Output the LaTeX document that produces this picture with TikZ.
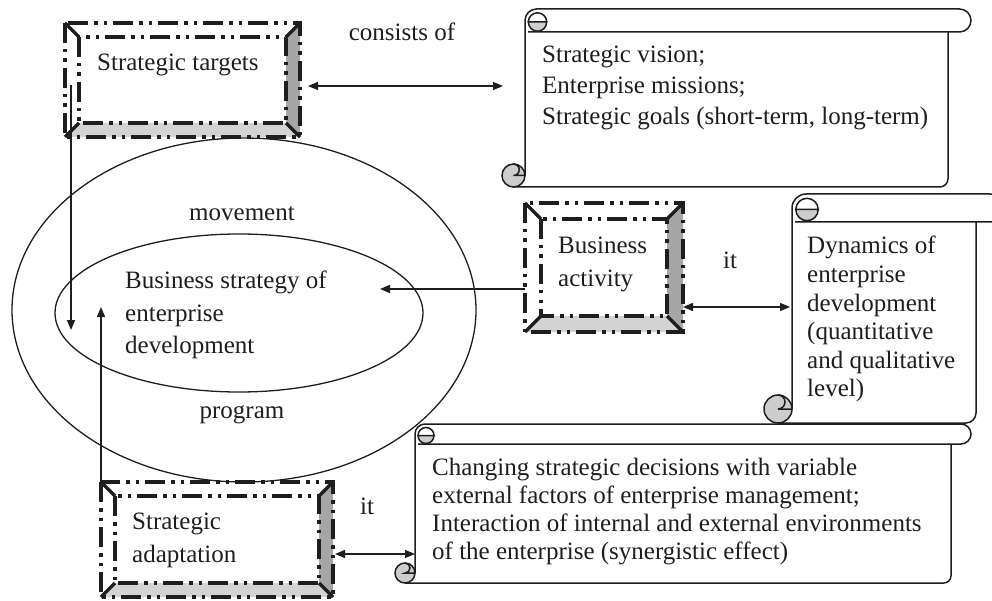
\documentclass[tikz,border=0pt]{standalone}
\usepackage{fontspec}
\setmainfont{Liberation Serif}
\usetikzlibrary{arrows.meta,shapes.geometric,calc}
\definecolor{rpanel}{RGB}{166,166,166}
\definecolor{bpanel}{RGB}{211,211,211}
\definecolor{curlgray}{RGB}{205,205,205}
\definecolor{ink}{RGB}{30,30,30}

% bevelled box: name, x1, y1, x2, y2, inset
\newcommand\bevelbox[6]{%
  \node[boxnode, minimum width={(#4-#2)*1pt}, minimum height={(#5-#3)*1pt}] (#1) at ({(#2+#4)/2},{(#3+#5)/2}) {};
  \fill[rpanel] (#1.north east) -- (#1.south east) -- ($(#1.south east)+(-#6,-#6)$) -- ($(#1.north east)+(-#6,#6)$) -- cycle;
  \fill[bpanel] (#1.south west) -- (#1.south east) -- ($(#1.south east)+(-#6,-#6)$) -- ($(#1.south west)+(#6,-#6)$) -- cycle;
  \draw[bvsolid] (#1.north west) -- ++(#6,#6) (#1.north east) -- ++(-#6,#6)
                 (#1.south west) -- ++(#6,-#6) (#1.south east) -- ++(-#6,-#6);
  \draw[bvdash] (#1.north west) rectangle (#1.south east);
  \draw[bvdash] ($(#1.north west)+(#6,#6)$) rectangle ($(#1.south east)+(-#6,-#6)$);
}

% horizontal scroll: name, L, T, R, B, c (roll height)
\newcommand\scrollbox[6]{%
  \pgfmathsetmacro\scrR{#6/2}%
  \pgfmathsetmacro\scrI{0.4*#6}%
  \pgfmathsetmacro\scrC{0.36*#6}%
  \pgfmathsetmacro\scrH{#6/4}%
  \pgfmathsetmacro\scrX{#2+#6/2+1}%
  \pgfmathsetmacro\scrY{#3+#6/2+1.5}%
  \node[boxnode, minimum width={(#4-#2)*1pt}, minimum height={(#5-#3)*1pt}] (#1) at ({(#2+#4)/2},{(#3+#5)/2}) {};
  \fill[white] (#2,{#3+\scrR}) rectangle (#4,#5);
  \fill[white] ({#2+\scrR},#3) rectangle ({#4+\scrR},{#3+#6});
  \fill[white] ({#2+\scrR},{#3+\scrR}) circle[radius=\scrR pt];
  \fill[white] ({#4+\scrR},{#3+\scrR}) circle[radius=\scrR pt];
  \draw[scline] (#2,{#5-\scrR}) -- (#2,{#3+\scrR}) arc[start angle=180,end angle=90,radius=\scrR pt]
     -- ({#4+\scrR},#3) arc[start angle=90,end angle=-90,radius=\scrR pt] -- ({#2+3},{#3+#6});
  \draw[scline] (#4,{#3+#6}) -- (#4,{#5-\scrC}) arc[start angle=0,end angle=-90,radius=\scrC pt] -- ({#2-\scrR},#5);
  \filldraw[scline, fill=curlgray] ({\scrX-\scrI},\scrY) arc[start angle=180,end angle=360,radius=\scrI pt] -- cycle;
  \draw[scline] ({\scrX-\scrI},\scrY) arc[start angle=180,end angle=0,radius=\scrI pt];
  \filldraw[scline, fill=curlgray] ({#2-\scrR},{#5-\scrR}) circle[radius=\scrR pt];
  \draw[scline] ({#2-\scrR},{#5-#6}) arc[start angle=90,end angle=-90,radius=\scrH pt] -- (#2,{#5-\scrR});
}

\newcommand\txtlines[2]{\fontsize{25}{#1}\selectfont\begin{tabular}[t]{@{}l@{}}#2\end{tabular}}

\begin{document}
\begin{tikzpicture}[x=1pt,y=-1pt,
  boxnode/.style={inner sep=0, outer sep=0, draw=none, rectangle},
  bvsolid/.style={line width=3.2pt, draw=ink},
  bvdash/.style={line width=3.2pt, draw=ink, dash pattern=on 20pt off 6pt on 3.5pt off 6pt on 3.5pt off 6pt},
  scline/.style={line width=1.5pt, draw=ink},
  ell/.style={ellipse, draw=ink, line width=1.3pt, inner sep=0},
  conn/.style={line width=1.3pt, draw=ink, >={Triangle[length=10pt,width=8pt]}},
  txt/.style={inner sep=0, text=ink, font=\fontsize{25}{30}\selectfont},
]
\useasboundingbox (0,0) rectangle (992,601);
\clip (0,0) rectangle (992,601);

% ellipses
\node[ell, minimum width=464pt, minimum height=344pt] (outer) at (244,310) {};
\node[ell, minimum width=368pt, minimum height=158pt] (inner) at (239,313) {};

% scrolls
\scrollbox{sc1}{525}{9}{948}{187}{23}
\scrollbox{sc2}{792}{194}{976}{423}{28}
\scrollbox{sc3}{415}{424}{951}{583}{20}

% bevelled boxes
\bevelbox{st}{65}{23}{300}{137}{14}
\bevelbox{ba}{525}{203}{683}{332}{16}
\bevelbox{sa}{101}{482}{333}{597}{14}

% free arrow ends
\coordinate (dn) at (71,330);
\coordinate (up) at (101,307);
\coordinate (bl) at (380,289);

% connectors
\draw[conn,<->] ($(st.east)+(8,6)$) -- ($(sc1.west)+(-22,-12)$);
\draw[conn,->] ($(st.west)+(6,5)$) -- (dn);
\draw[conn,->] (sa.north west) -- (up);
\draw[conn,->] ($(ba.west)+(0,21.5)$) -- (bl);
\draw[conn,<->] ($(ba.east)+(0,39.5)$) -- ($(sc2.west)+(-2,-1.5)$);
\draw[conn,<->] ($(sa.east)+(2,14.5)$) -- ($(sc3.west)+(0,50.5)$);

% texts
\node[txt, anchor=base west] (st-t) at (97,71) {Strategic targets};
\node[txt, anchor=base] (cons) at (402,41) {consists of};
\node[txt, anchor=base west] (sc1-t) at (542,63) {\txtlines{31pt}{Strategic vision;\\Enterprise missions;\\Strategic goals (short-term, long-term)}};
\node[txt, anchor=base] (mov) at (242,221) {movement};
\node[txt, anchor=base] (prog) at (242,418) {program};
\node[txt, anchor=base west] (core-t) at (125,288) {\txtlines{33pt}{Business strategy of\\enterprise\\development}};
\node[txt, anchor=base west] (ba-t) at (558,254) {\txtlines{33pt}{Business\\activity}};
\node[txt, anchor=base west] (it1) at (723,269) {it};
\node[txt, anchor=base west] (sc2-t) at (807,254) {\txtlines{28.6pt}{Dynamics of\\enterprise\\development\\(quantitative\\and qualitative\\level)}};
\node[txt, anchor=base west] (sa-t) at (132,529) {\txtlines{33pt}{Strategic\\adaptation}};
\node[txt, anchor=base west] (it2) at (360,514) {it};
\node[txt, anchor=base west] (sc3-t) at (432,475) {\txtlines{28.3pt}{Changing strategic decisions with variable\\external factors of enterprise management;\\Interaction of internal and external environments\\of the enterprise (synergistic effect)}};
\end{tikzpicture}
\end{document}
